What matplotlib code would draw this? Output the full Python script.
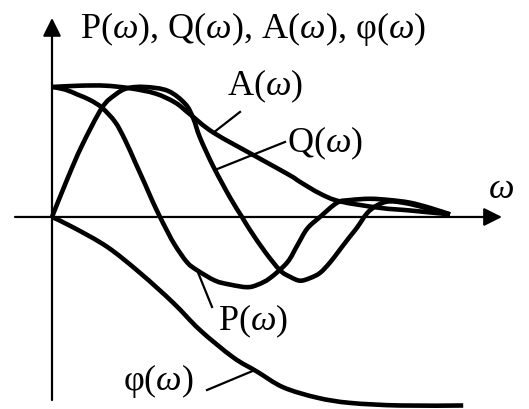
import numpy as np
import matplotlib
matplotlib.use("Agg")
import matplotlib.pyplot as plt
from matplotlib.path import Path
from matplotlib.patches import PathPatch

plt.rcParams['font.family'] = ['Liberation Serif', 'DejaVu Serif']
plt.rcParams['mathtext.fontset'] = 'custom'
plt.rcParams['mathtext.rm'] = 'Liberation Serif'
plt.rcParams['mathtext.it'] = 'Liberation Serif:italic'

# frequency characteristics (schematic), omega in arbitrary units
P_w = [0, 0.33, 0.65, 0.95, 1.25, 1.58, 1.83, 2.08, 2.33, 2.5, 2.7, 2.9, 3.08, 3.38,
       3.63, 4.08, 4.45, 4.88, 5.15, 5.45, 5.88, 6.13, 6.38, 6.7, 7.13, 7.45, 7.95,
       8.45, 8.95, 9.45, 9.95]
P_v = [1.0, 0.98, 0.94, 0.9, 0.84, 0.73, 0.59, 0.42, 0.25, 0.13, 0.0, -0.12, -0.22,
       -0.35, -0.41, -0.49, -0.52, -0.54, -0.52, -0.47, -0.35, -0.22, -0.09, 0.0,
       0.11, 0.13, 0.14, 0.13, 0.11, 0.07, 0.02]

Q_w = [0, 0.38, 0.75, 1.25, 1.58, 1.88, 2.33, 2.9, 3.33, 3.53, 3.7, 4.03, 4.45, 4.75,
       4.95, 5.33, 5.7, 5.95, 6.2, 6.45, 6.7, 6.95, 7.2, 7.45, 7.63, 7.88, 8.13, 8.45,
       8.95, 9.45, 9.95]
Q_v = [0.0, 0.29, 0.55, 0.84, 0.94, 0.99, 1.0, 0.97, 0.87, 0.76, 0.61, 0.39, 0.15, 0.0,
       -0.1, -0.27, -0.41, -0.46, -0.49, -0.47, -0.43, -0.35, -0.25, -0.15, -0.08,
       0.03, 0.09, 0.12, 0.1, 0.06, 0.02]

A_w = [0, 0.7, 1.33, 1.95, 2.58, 3.08, 3.45, 4.03, 5.13, 5.95, 6.2, 6.7, 7.2, 8.2,
       8.95, 9.95]
A_v = [1.0, 1.01, 1.01, 0.99, 0.95, 0.88, 0.79, 0.65, 0.46, 0.32, 0.27, 0.18, 0.12,
       0.07, 0.05, 0.02]

phi_w = [0, 0.53, 1.38, 2.2, 3.03, 3.7, 4.53, 5.13, 5.78, 6.63, 7.45, 8.7, 10.28]
phi_v = [0.0, -0.08, -0.23, -0.43, -0.66, -0.87, -1.08, -1.19, -1.31, -1.39, -1.43,
         -1.45, -1.45]


def smooth_curve(ax, xs, ys, lw=3.3):
    # Catmull-Rom through the points, drawn as cubic Bezier segments
    p = np.column_stack([xs, ys]).astype(float)
    ext = np.vstack([p[0], p, p[-1]])
    verts = [p[0]]
    codes = [Path.MOVETO]
    for i in range(len(p) - 1):
        p0, p1, p2, p3 = ext[i], ext[i + 1], ext[i + 2], ext[i + 3]
        verts += [p1 + (p2 - p0) / 6, p2 - (p3 - p1) / 6, p2]
        codes += [Path.CURVE4] * 3
    ax.add_patch(PathPatch(Path(verts, codes), fill=False, lw=lw,
                           edgecolor='black', capstyle='butt', joinstyle='round'))


fig = plt.figure(figsize=(5.29, 4.09), dpi=100)
ax = fig.add_axes([0, 0, 1, 1])
ax.set_xlim(-1.3, 11.925)
ax.set_ylim(-1.477, 1.669)
ax.axis('off')

# axes with arrow heads
arrow = dict(arrowstyle='-|>,head_length=1.1,head_width=0.55', mutation_scale=10,
             lw=1.6, color='black', shrinkA=0, shrinkB=0)
ax.annotate('', xy=(11.25, 0), xytext=(-0.925, 0), arrowprops=arrow)
ax.annotate('', xy=(0, 1.531), xytext=(0, -1.408), arrowprops=arrow)

for w, v in [(A_w, A_v), (P_w, P_v), (Q_w, Q_v), (phi_w, phi_v)]:
    smooth_curve(ax, w, v)

fs = 26
ax.text(0.7, 1.377, r'P($\omega$), Q($\omega$), A($\omega$), φ($\omega$)',
        fontsize=fs, ha='left', va='baseline')
ax.text(10.9, 0.146, r'$\omega$', fontsize=fs, ha='left', va='baseline')
ax.text(4.375, 0.938, r'A($\omega$)', fontsize=fs, ha='left', va='baseline')
ax.text(5.875, 0.5, r'Q($\omega$)', fontsize=fs, ha='left', va='baseline')
ax.text(4.15, -0.869, r'P($\omega$)', fontsize=fs, ha='left', va='baseline')
ax.text(1.775, -1.331, r'φ($\omega$)', fontsize=fs, ha='left', va='baseline')

# leader lines from labels to curves
for (x0, y0), (x1, y1) in [((4.7, 0.808), (4.025, 0.646)),
                           ((5.825, 0.577), (4.075, 0.362)),
                           ((3.625, -0.408), (4.0, -0.692)),
                           ((3.875, -1.331), (5.075, -1.177))]:
    ax.plot([x0, x1], [y0, y1], color='black', lw=1.6)

fig.savefig('out.png', dpi=100)
